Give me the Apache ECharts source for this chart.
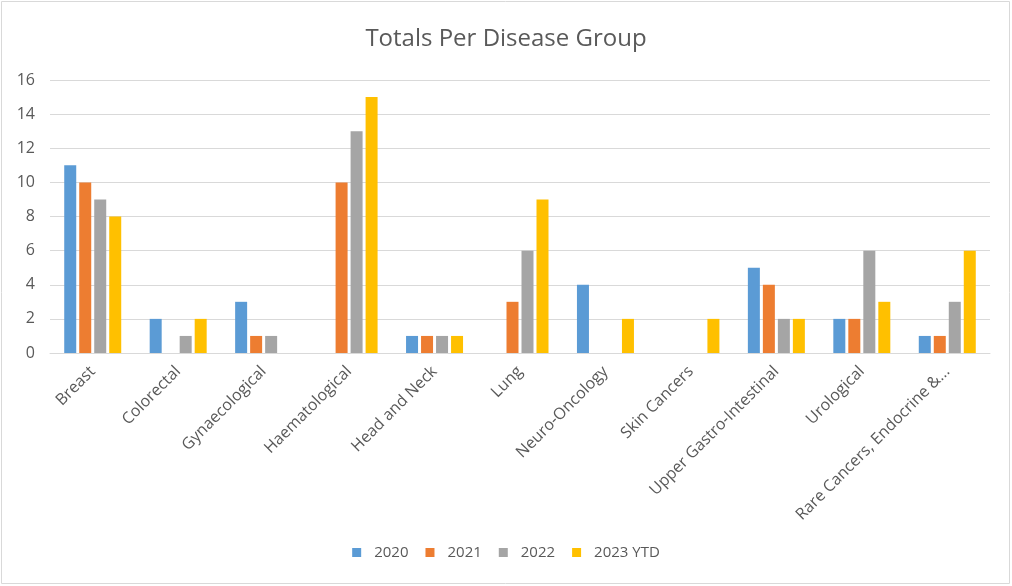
<!DOCTYPE html>
<html><head><meta charset="utf-8">
<script src="https://cdn.jsdelivr.net/npm/echarts@6/dist/echarts.min.js"></script>
<style>html,body{margin:0;padding:0;background:#fff}#c{width:1012px;height:586px}</style>
</head><body><div id="c"></div>
<script>
const categories = ["Breast","Colorectal","Gynaecological","Haematological","Head and Neck","Lung","Neuro-Oncology","Skin Cancers","Upper Gastro-Intestinal","Urological","Rare Cancers, Endocrine &..."];
const seriesNames = ["2020","2021","2022","2023 YTD"];
const v2020 = [11,2,3,0,1,0,4,0,5,2,1];
const v2021 = [10,0,1,10,1,3,0,0,4,2,1];
const v2022 = [9,1,1,13,1,6,0,0,2,6,3];
const v2023 = [8,2,0,15,1,9,2,2,2,3,6];
const yTicks = {min:0,max:16,interval:2};
const colors = ["#5B9BD5","#ED7D31","#A5A5A5","#FFC000"];
const values = [v2020,v2021,v2022,v2023];
const font = "'Open Sans', sans-serif";
const chart = echarts.init(document.getElementById('c'));
chart.setOption({
  animation:false,
  textStyle:{fontFamily:font},
  graphic:[{type:'rect',shape:{x:1.5,y:1.5,width:1008,height:582},style:{fill:'none',stroke:'#d9d9d9',lineWidth:1},silent:true}],
  title:{text:'Totals Per Disease Group',left:'center',top:22,textStyle:{fontFamily:font,fontSize:24,fontWeight:'normal',color:'#595959'}},
  legend:{bottom:21,left:'center',itemWidth:9,itemHeight:9,itemGap:17,icon:'rect',textStyle:{fontFamily:font,fontSize:15,color:'#595959',padding:[0,0,0,8]},data:seriesNames},
  grid:{left:50,right:22,top:80,bottom:233},
  xAxis:{type:'category',data:categories,axisTick:{show:false},axisLine:{lineStyle:{color:'#d9d9d9'}},
    axisLabel:{rotate:45,interval:0,margin:16,fontFamily:font,fontSize:16,color:'#595959'}},
  yAxis:{type:'value',min:yTicks.min,max:yTicks.max,interval:yTicks.interval,axisLine:{show:false},axisTick:{show:false},
    splitLine:{lineStyle:{color:'#d9d9d9'}},axisLabel:{margin:15,fontFamily:font,fontSize:16,color:'#595959'}},
  series: seriesNames.map((n,i)=>({name:n,type:'bar',data:values[i],barWidth:12,barGap:'25%',itemStyle:{color:colors[i]}}))
});
</script></body></html>
